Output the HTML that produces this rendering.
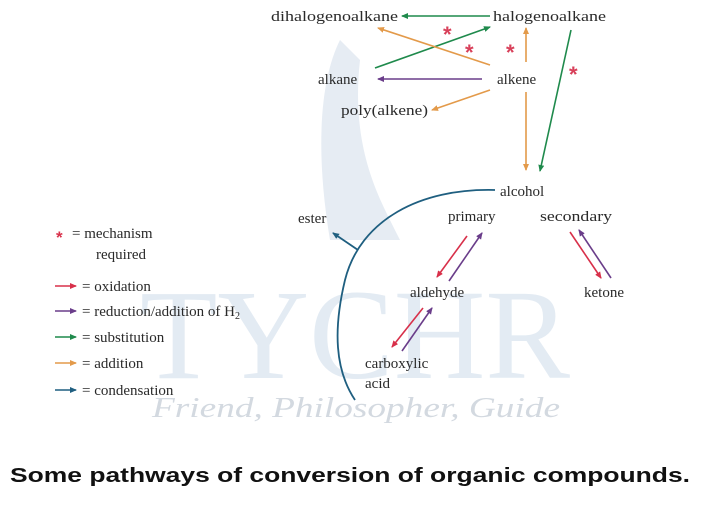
<!DOCTYPE html>
<html><head><meta charset="utf-8"><style>
html,body{margin:0;padding:0;background:#fff;width:713px;height:505px;overflow:hidden}
svg{display:block}
.t{font-family:"Liberation Serif",serif;font-size:15px;fill:#2a2a2a}
</style></head><body>
<svg width="713" height="505" viewBox="0 0 713 505" xmlns="http://www.w3.org/2000/svg">
<defs>
<marker id="g" markerWidth="8" markerHeight="8" refX="6" refY="4" orient="auto" markerUnits="userSpaceOnUse"><path d="M0,1 L7,4 L0,7z" fill="#1f8a4c"/></marker>
<marker id="o" markerWidth="8" markerHeight="8" refX="6" refY="4" orient="auto" markerUnits="userSpaceOnUse"><path d="M0,1 L7,4 L0,7z" fill="#e39a4a"/></marker>
<marker id="p" markerWidth="8" markerHeight="8" refX="6" refY="4" orient="auto" markerUnits="userSpaceOnUse"><path d="M0,1 L7,4 L0,7z" fill="#6a3d8a"/></marker>
<marker id="r" markerWidth="8" markerHeight="8" refX="6" refY="4" orient="auto" markerUnits="userSpaceOnUse"><path d="M0,1 L7,4 L0,7z" fill="#d8304a"/></marker>
<marker id="b" markerWidth="8" markerHeight="8" refX="6" refY="4" orient="auto" markerUnits="userSpaceOnUse"><path d="M0,1 L7,4 L0,7z" fill="#1f5f80"/></marker>
</defs>
<!-- watermark -->
<path d="M340,40 C320,80 315,150 330,240 L400,240 C380,200 350,150 360,60 Z" fill="#e6ecf3"/>
<text x="140" y="378" font-family="Liberation Serif,serif" font-size="128" fill="#e3ebf3" textLength="430" lengthAdjust="spacingAndGlyphs">TYCHR</text>
<text x="152" y="417" font-family="Liberation Serif,serif" font-style="italic" font-size="28" fill="#d3d9e0" textLength="408" lengthAdjust="spacingAndGlyphs">Friend, Philosopher, Guide</text>
<!-- labels -->
<text class="t" x="271" y="21" textLength="127" lengthAdjust="spacingAndGlyphs">dihalogenoalkane</text>
<text class="t" x="493" y="21" textLength="113" lengthAdjust="spacingAndGlyphs">halogenoalkane</text>
<text class="t" x="318" y="84">alkane</text>
<text class="t" x="497" y="84">alkene</text>
<text class="t" x="341" y="115" textLength="87" lengthAdjust="spacingAndGlyphs">poly(alkene)</text>
<text class="t" x="500" y="196">alcohol</text>
<text class="t" x="298" y="223">ester</text>
<text class="t" x="448" y="221">primary</text>
<text class="t" x="540" y="221" textLength="72" lengthAdjust="spacingAndGlyphs">secondary</text>
<text class="t" x="410" y="297">aldehyde</text>
<text class="t" x="584" y="297">ketone</text>
<text class="t" x="365" y="368">carboxylic</text>
<text class="t" x="365" y="388">acid</text>
<!-- top arrows -->
<line x1="490" y1="16" x2="402" y2="16" stroke="#1f8a4c" stroke-width="1.6" marker-end="url(#g)"/>
<line x1="375" y1="68" x2="490" y2="27" stroke="#1f8a4c" stroke-width="1.6" marker-end="url(#g)"/>
<line x1="490" y1="65" x2="378" y2="28" stroke="#e39a4a" stroke-width="1.6" marker-end="url(#o)"/>
<line x1="482" y1="79" x2="378" y2="79" stroke="#6a3d8a" stroke-width="1.6" marker-end="url(#p)"/>
<line x1="490" y1="90" x2="432" y2="110" stroke="#e39a4a" stroke-width="1.6" marker-end="url(#o)"/>
<line x1="526" y1="62" x2="526" y2="28" stroke="#e39a4a" stroke-width="1.6" marker-end="url(#o)"/>
<line x1="526" y1="92" x2="526" y2="170" stroke="#e39a4a" stroke-width="1.6" marker-end="url(#o)"/>
<line x1="571" y1="30" x2="540" y2="171" stroke="#1f8a4c" stroke-width="1.6" marker-end="url(#g)"/>
<g font-family="Liberation Sans,sans-serif" font-size="22" fill="#d8405a" font-weight="bold">
<text x="443" y="42">*</text><text x="465" y="60">*</text><text x="506" y="60">*</text><text x="569" y="82">*</text>
</g>
<!-- condensation curve -->
<path d="M495,190 C420,188 360,220 345,280 C333,330 335,370 355,400" fill="none" stroke="#1f5f80" stroke-width="1.8"/>
<line x1="358" y1="250" x2="333" y2="233" stroke="#1f5f80" stroke-width="1.8" marker-end="url(#b)"/>
<!-- oxidation / reduction -->
<line x1="467" y1="236" x2="437" y2="277" stroke="#d8304a" stroke-width="1.6" marker-end="url(#r)"/>
<line x1="449" y1="281" x2="482" y2="233" stroke="#6a3d8a" stroke-width="1.6" marker-end="url(#p)"/>
<line x1="423" y1="308" x2="392" y2="347" stroke="#d8304a" stroke-width="1.6" marker-end="url(#r)"/>
<line x1="402" y1="351" x2="432" y2="308" stroke="#6a3d8a" stroke-width="1.6" marker-end="url(#p)"/>
<line x1="570" y1="232" x2="601" y2="278" stroke="#d8304a" stroke-width="1.6" marker-end="url(#r)"/>
<line x1="611" y1="278" x2="579" y2="230" stroke="#6a3d8a" stroke-width="1.6" marker-end="url(#p)"/>
<!-- legend -->
<text x="56" y="243" font-family="Liberation Sans,sans-serif" font-size="17" font-weight="bold" fill="#d8304a">*</text>
<text class="t" x="72" y="238">= mechanism</text>
<text class="t" x="96" y="259">required</text>
<line x1="55" y1="286" x2="76" y2="286" stroke="#d8304a" stroke-width="1.6" marker-end="url(#r)"/>
<text class="t" x="82" y="291">= oxidation</text>
<line x1="55" y1="311" x2="76" y2="311" stroke="#6a3d8a" stroke-width="1.6" marker-end="url(#p)"/>
<text class="t" x="82" y="316">= reduction/addition of H<tspan font-size="10" dy="3">2</tspan></text>
<line x1="55" y1="337" x2="76" y2="337" stroke="#1f8a4c" stroke-width="1.6" marker-end="url(#g)"/>
<text class="t" x="82" y="342">= substitution</text>
<line x1="55" y1="363" x2="76" y2="363" stroke="#e39a4a" stroke-width="1.6" marker-end="url(#o)"/>
<text class="t" x="82" y="368">= addition</text>
<line x1="55" y1="390" x2="76" y2="390" stroke="#1f5f80" stroke-width="1.6" marker-end="url(#b)"/>
<text class="t" x="82" y="395">= condensation</text>
<!-- caption -->
<text x="10" y="482" font-family="Liberation Sans,sans-serif" font-size="20" font-weight="bold" fill="#111" textLength="680" lengthAdjust="spacingAndGlyphs">Some pathways of conversion of organic compounds.</text>
</svg>
</body></html>
